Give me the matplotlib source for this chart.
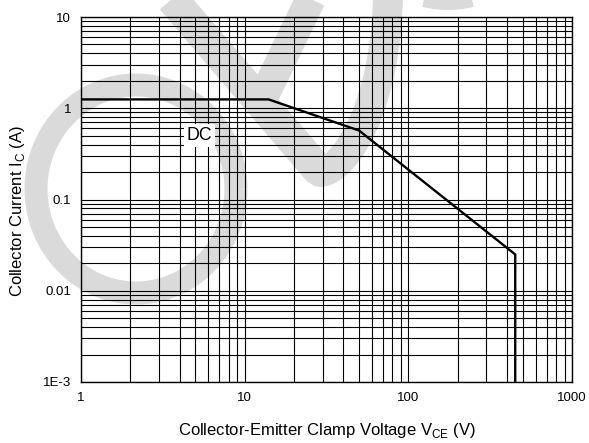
import numpy as np
import matplotlib
matplotlib.use("Agg")
import matplotlib.pyplot as plt
from matplotlib.lines import Line2D

plt.rcParams['font.family'] = ['Liberation Sans', 'DejaVu Sans']

# DC safe operating curve
vce = [1, 14, 50, 450, 450]
ic = [1.25, 1.25, 0.57, 0.025, 0.001]

x_ticks = [1, 10, 100, 1000]
x_labels = ['1', '10', '100', '1000']
y_ticks = [0.001, 0.01, 0.1, 1, 10]
y_labels = ['1E-3', '0.01', '0.1', '1', '10']

W, H = 589, 443
fig = plt.figure(figsize=(W / 100, H / 100), dpi=100)
ax = fig.add_axes([81 / W, 1 - 382 / H, (572 - 81) / W, (382 - 17) / H])
ax.patch.set_alpha(0)

# grey watermark behind the grid (pixel coords, y down)
wm = '#dadada'
def band(xs, ys, width_px, cap='butt'):
    xs = np.asarray(xs, float) / W
    ys = 1 - np.asarray(ys, float) / H
    fig.add_artist(Line2D(xs, ys, transform=fig.transFigure, color=wm,
                          lw=width_px * 0.72, zorder=-5,
                          solid_capstyle=cap, solid_joinstyle='round'))

t = np.linspace(0, 2 * np.pi, 200)
band(136 + 100 * np.cos(t), 189 + 104 * np.sin(t), 23)
band([160, 320], [-15, 172], 32)
band([316, 262], [-12, 100], 30)
s = np.linspace(0, 1, 60)
band(320 + 68 * np.sin(s * np.pi * 0.5) ** 0.8, 172 - 185 * s ** 1.4, 30, cap='round')
band(448 + 97 * np.cos(t), -95 + 97 * np.sin(t), 16)

ax.plot(vce, ic, color='black', lw=1.7, zorder=3)
ax.set_xscale('log')
ax.set_yscale('log')
ax.set_xlim(1, 1000)
ax.set_ylim(0.001, 10)

ax.grid(True, which='both', color='black', lw=0.8)
ax.set_axisbelow(True)
ax.set_xticks(x_ticks)
ax.set_xticklabels(x_labels)
ax.set_yticks(y_ticks)
ax.set_yticklabels(y_labels)
ax.tick_params(which='both', length=0, labelsize=9.5, pad=7, colors='black')
for sp in ax.spines.values():
    sp.set_linewidth(1)

ax.text(5.3, 0.5, 'DC', fontsize=12.8, ha='center', va='center', zorder=4,
        bbox=dict(facecolor='white', edgecolor='none', pad=2))

ax.set_xlabel(r'Collector-Emitter Clamp Voltage V$_\mathregular{CE}$ (V)', fontsize=12)
ax.xaxis.set_label_coords(0.5, (382 - 430) / 365)
ax.xaxis.label.set_va('center')
ax.set_ylabel(r'Collector Current I$_\mathregular{C}$ (A)', fontsize=12)
ax.yaxis.set_label_coords((18 - 81) / 491, (382 - 211) / 365)
ax.yaxis.label.set_va('center')

fig.savefig('out.png', dpi=100)
